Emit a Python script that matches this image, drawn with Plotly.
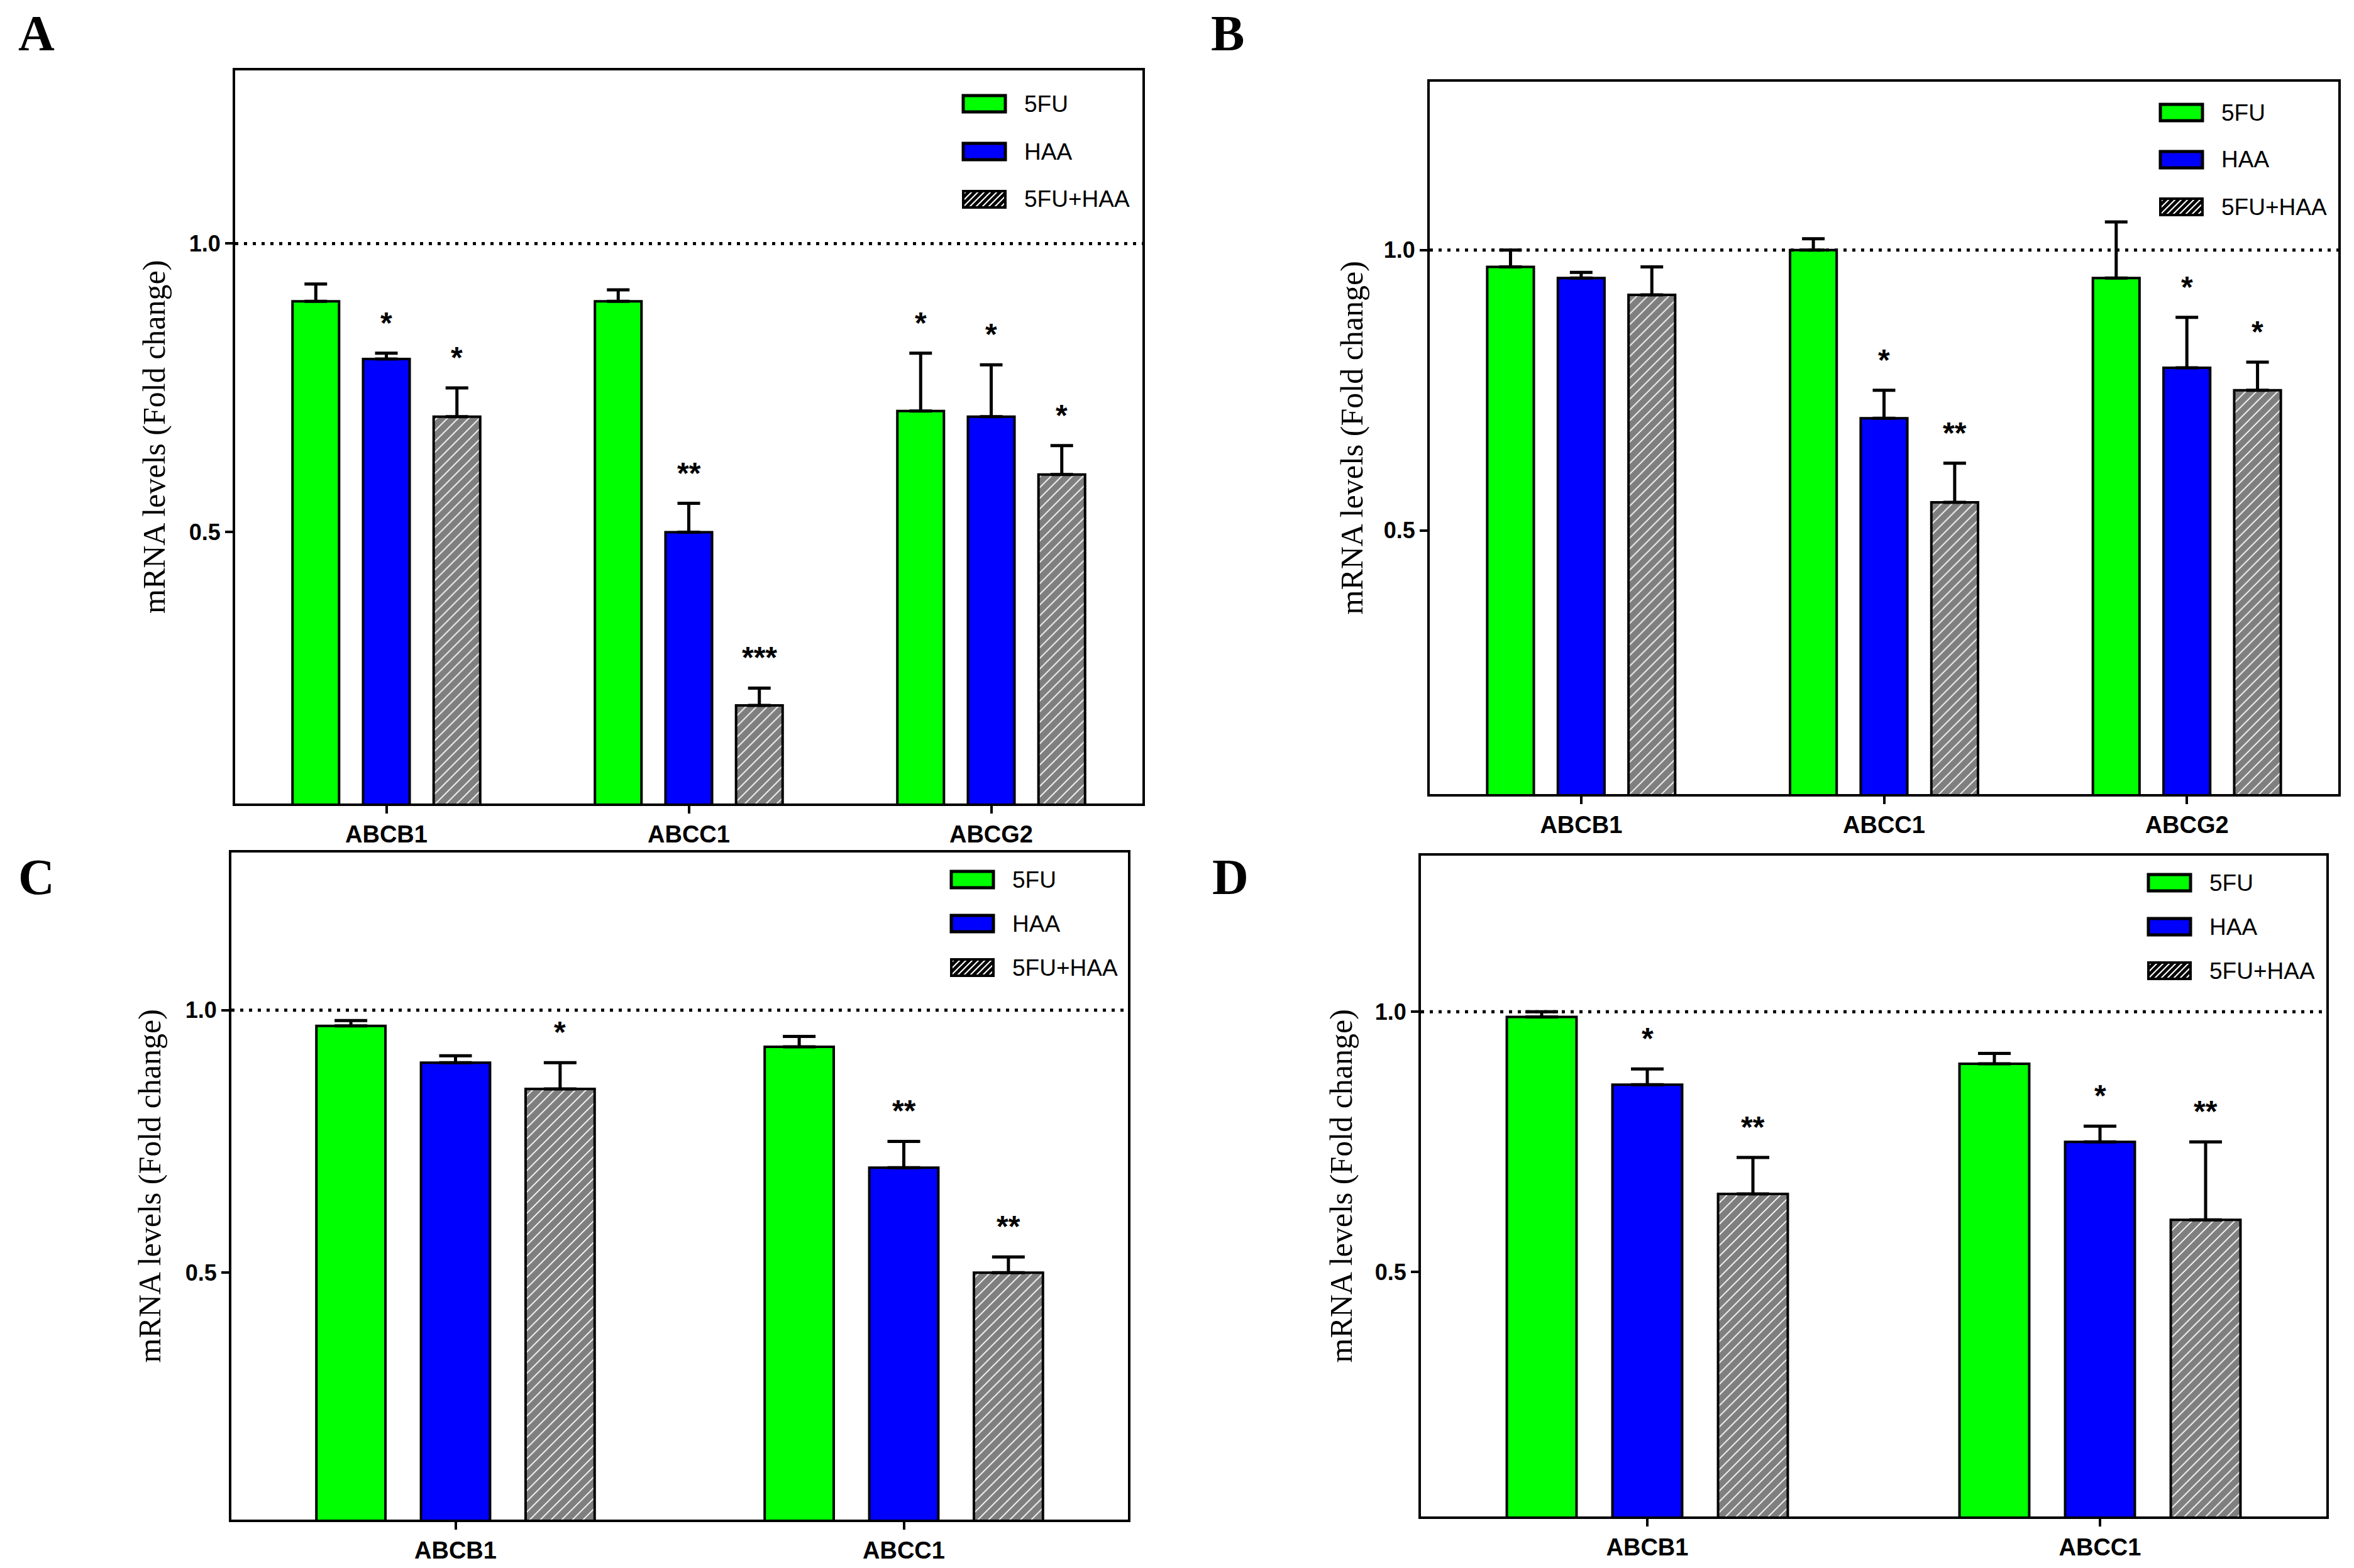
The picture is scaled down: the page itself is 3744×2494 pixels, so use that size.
import plotly.graph_objs as go
from plotly.subplots import make_subplots

W, H = 3744, 2494

GENES_3 = ["ABCB1", "ABCC1", "ABCG2"]
GENES_2 = ["ABCB1", "ABCC1"]
SERIES = ["5FU", "HAA", "5FU+HAA"]

# panel A
a_5fu = [0.90, 0.90, 0.71]
a_5fu_sem = [0.03, 0.02, 0.10]
a_haa = [0.80, 0.50, 0.70]
a_haa_sem = [0.01, 0.05, 0.09]
a_mix = [0.70, 0.20, 0.60]
a_mix_sem = [0.05, 0.03, 0.05]
a_stars = [["", "", "*"], ["*", "**", "*"], ["*", "***", "*"]]

# panel B
b_5fu = [0.97, 1.00, 0.95]
b_5fu_sem = [0.03, 0.02, 0.10]
b_haa = [0.95, 0.70, 0.79]
b_haa_sem = [0.01, 0.05, 0.09]
b_mix = [0.92, 0.55, 0.75]
b_mix_sem = [0.05, 0.07, 0.05]
b_stars = [["", "", ""], ["", "*", "*"], ["", "**", "*"]]

# panel C
c_5fu = [0.97, 0.93]
c_5fu_sem = [0.01, 0.02]
c_haa = [0.90, 0.70]
c_haa_sem = [0.013, 0.05]
c_mix = [0.85, 0.50]
c_mix_sem = [0.05, 0.03]
c_stars = [["", ""], ["", "**"], ["*", "**"]]

# panel D
d_5fu = [0.99, 0.90]
d_5fu_sem = [0.01, 0.02]
d_haa = [0.86, 0.75]
d_haa_sem = [0.03, 0.03]
d_mix = [0.65, 0.60]
d_mix_sem = [0.07, 0.15]
d_stars = [["", ""], ["*", "*"], ["**", "**"]]

Y_RANGE = [0.03, 1.30]
GREEN = "#00FF00"
BLUE = "#0000FF"
BARGAP = 0.30
SANS = "Liberation Sans, Arial"
SERIF = "Liberation Serif, Times New Roman"

# panel frames in pixels: x0, x1, y0 (top), y1 (bottom)
panels = [
    dict(letter="A", genes=GENES_3, box=(366, 1809, 104, 1270),
         vals=[a_5fu, a_haa, a_mix], sems=[a_5fu_sem, a_haa_sem, a_mix_sem], stars=a_stars,
         legend=(1524, 157, 76), title_x=237, letter_pos=(50, 45), cap=18),
    dict(letter="B", genes=GENES_3, box=(2266, 3711, 122, 1255),
         vals=[b_5fu, b_haa, b_mix], sems=[b_5fu_sem, b_haa_sem, b_mix_sem], stars=b_stars,
         legend=(3428, 171, 75), title_x=2141, letter_pos=(1944, 45), cap=18),
    dict(letter="C", genes=GENES_2, box=(360, 1786, 1348, 2409),
         vals=[c_5fu, c_haa, c_mix], sems=[c_5fu_sem, c_haa_sem, c_mix_sem], stars=c_stars,
         legend=(1505, 1391, 70), title_x=229, letter_pos=(50, 1387), cap=26),
    dict(letter="D", genes=GENES_2, box=(2252, 3692, 1353, 2404),
         vals=[d_5fu, d_haa, d_mix], sems=[d_5fu_sem, d_haa_sem, d_mix_sem], stars=d_stars,
         legend=(3409, 1396, 70), title_x=2124, letter_pos=(1949, 1387), cap=26),
]


def px(x):
    return x / W


def py(y):
    return 1 - y / H


def hatch_lines(x0, y0, x1, y1, step=10):
    # diagonal "/" strokes clipped to the swatch box
    lines = []
    h = y1 - y0
    c = -h
    while c < (x1 - x0):
        sx, sy = x0 + c, y1
        ex, ey = x0 + c + h, y0
        if sx < x0:
            sy -= (x0 - sx)
            sx = x0
        if ex > x1:
            ey += (ex - x1)
            ex = x1
        lines.append((sx, sy, ex, ey))
        c += step
    return lines


fig = make_subplots(rows=2, cols=2)
shapes = []
annotations = []
slot = (1 - BARGAP) / 3

for i, p in enumerate(panels):
    row, col = i // 2 + 1, i % 2 + 1
    x0, x1, y0, y1 = p["box"]
    axn = "" if i == 0 else str(i + 1)
    pos = list(range(len(p["genes"])))

    for k, name in enumerate(SERIES):
        marker = dict(line=dict(color="black", width=4))
        if k == 0:
            marker["color"] = GREEN
        elif k == 1:
            marker["color"] = BLUE
        else:
            marker["color"] = "black"
            marker["pattern"] = dict(shape="/", fgcolor="black", bgcolor="white",
                                     size=12, solidity=0.85)
        fig.add_trace(go.Bar(
            x=pos, y=p["vals"][k], name=name, marker=marker,
            error_y=dict(type="data", symmetric=False, array=p["sems"][k],
                         arrayminus=[0] * len(pos),
                         color="black", thickness=5, width=p["cap"]),
            showlegend=False, offsetgroup=str(k),
        ), row=row, col=col)

        for g in pos:
            s = p["stars"][k][g]
            if s:
                annotations.append(dict(
                    x=g + (k - 1) * slot, y=p["vals"][k][g] + p["sems"][k][g],
                    xref="x" + axn, yref="y" + axn,
                    text="<b>" + s + "</b>", showarrow=False, yanchor="bottom", yshift=20,
                    font=dict(family=SANS, size=48, color="black"),
                ))

    fig.update_xaxes(domain=[px(x0), px(x1)], range=[-0.5, len(pos) - 0.5],
                     tickvals=pos, ticktext=p["genes"],
                     showline=True, mirror=True, linecolor="black", linewidth=4,
                     ticks="outside", ticklen=12, tickwidth=4, tickcolor="black",
                     tickfont=dict(family=SANS, size=38, color="black", weight="bold"),
                     showgrid=False, zeroline=False, row=row, col=col)
    fig.update_yaxes(domain=[py(y1), py(y0)], range=Y_RANGE,
                     tickvals=[0.5, 1.0], ticktext=["0.5", "1.0"],
                     showline=True, mirror=True, linecolor="black", linewidth=4,
                     ticks="outside", ticklen=12, tickwidth=4, tickcolor="black",
                     tickfont=dict(family=SANS, size=36, color="black", weight="bold"),
                     showgrid=False, zeroline=False, row=row, col=col)

    # dotted reference line at 1.0
    shapes.append(dict(type="line", xref="x" + axn + " domain", yref="y" + axn,
                       x0=0, x1=1, y0=1.0, y1=1.0,
                       line=dict(color="black", width=5, dash="5px,9px")))

    # y axis title
    annotations.append(dict(
        x=px(p["title_x"]), y=py((y0 + y1) / 2), xref="paper", yref="paper",
        text="mRNA levels (Fold change)", textangle=-90, showarrow=False,
        xanchor="center", yanchor="middle",
        font=dict(family=SERIF, size=50, color="black"),
    ))

    # panel letter
    lx, ly = p["letter_pos"]
    annotations.append(dict(
        x=px(lx), y=py(ly), xref="paper", yref="paper", text="<b>" + p["letter"] + "</b>",
        showarrow=False, xanchor="center", yanchor="middle",
        font=dict(family=SERIF, size=80, color="black"),
    ))

    # legend drawn by hand to keep the wide swatches
    sx, sy, step = p["legend"]
    sw, sh = 67, 26
    fills = [GREEN, BLUE, None]
    for k, name in enumerate(SERIES):
        cy = sy + k * step
        bx0, bx1, by0, by1 = sx, sx + sw, cy - sh / 2, cy + sh / 2
        if fills[k]:
            shapes.append(dict(type="rect", xref="paper", yref="paper",
                               x0=px(bx0), x1=px(bx1), y0=py(by1), y1=py(by0),
                               fillcolor=fills[k], line=dict(color="black", width=5)))
        else:
            shapes.append(dict(type="rect", xref="paper", yref="paper",
                               x0=px(bx0), x1=px(bx1), y0=py(by1), y1=py(by0),
                               fillcolor="white", line=dict(color="black", width=4)))
            for lx0, ly0, lx1, ly1 in hatch_lines(bx0, by0, bx1, by1):
                shapes.append(dict(type="line", xref="paper", yref="paper",
                                   x0=px(lx0), y0=py(ly0), x1=px(lx1), y1=py(ly1),
                                   line=dict(color="black", width=5)))
        annotations.append(dict(
            x=px(bx1 + 28), y=py(cy), xref="paper", yref="paper", text=name,
            showarrow=False, xanchor="left", yanchor="middle",
            font=dict(family=SANS, size=37, color="black"),
        ))

fig.update_layout(
    width=W, height=H, autosize=False,
    margin=dict(l=0, r=0, t=0, b=0),
    paper_bgcolor="white", plot_bgcolor="white",
    barmode="group", bargap=BARGAP, bargroupgap=0.34,
    shapes=shapes, annotations=annotations,
)

fig.write_html("out.html")
